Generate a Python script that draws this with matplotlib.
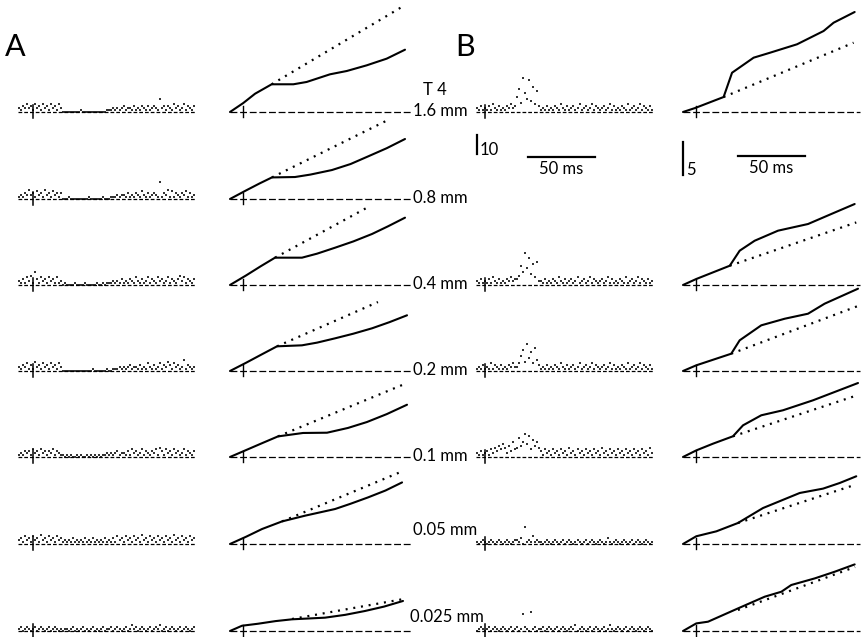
import numpy as np
import matplotlib
matplotlib.use("Agg")
import matplotlib.pyplot as plt

plt.rcParams['font.family'] = ['Lato', 'DejaVu Sans']

# ---------------- data ----------------
depth_labels = ["1.6 mm", "0.8 mm", "0.4 mm", "0.2 mm", "0.1 mm", "0.05 mm", "0.025 mm"]
BIN_MS = 1.5            # histogram bin width (ms)
STIM_A_MS = 11.0        # stimulus time in A histograms
STIM_B_MS = 7.0         # stimulus time in B histograms
STIM_CUM_MS = 9.5       # stimulus time in cumulative plots

# dot histograms: one digit (base 36) = spike count of one bin
hist_A = [
    "2132423142314231423142" "00000000010000000000001" "1121212312213121321312321723132142312413213",
    "1213252314231523142313" "00010000000001000000100" "0111212213121321421312321913251413213241312",
    "2131425173142314231412" "01000010000100000100101" "1121213121321421312413214231241321352413213",
    "2132413152314231423142" "00000000000000010000001" "0011121212312213121421312413253142312613212",
    "1213231423142313241321" "10101001010010101010112" "1212312213142312413213241531423142312413213",
    "2314231423152314231423" "12121312121312131212131" "2131423142314231523142314231423152314231423",
    "1201210120121012012101" "01101201012010120101201" "1201210120131201210120121301201210120121012",
]
hist_B = {
    0: "21312" "131421312132423" "8c5ia7h6d4b3"
       "1213121321" "4213123124" "1231241321" "2312413121" "3214123124" "132131",
    2: "21312" "131421312132423" "35a7h9e6b4c2"
       "2131213214" "2131231241" "2312413212" "3124131213" "2141231241" "321312",
    3: "12131" "214132131213242" "248b5e7a4c63"
       "1213121321" "4213123124" "1231241321" "2312413121" "3214123124" "132131",
    4: "21312" "314253647526384" "5a68c7b49685"
       "3142314231" "4231523142" "3142314231" "5231423142" "3142314231" "423152",
    5: "10121" "012101210121012" "213091214121"
       "1012101210" "1201210121" "0120121012" "1013101210" "1210120121" "012101",
    6: "01210" "120121012101201" "2019210a1201"
       "1201210120" "1210121301" "2101201210" "1201310121" "0120121012" "101210",
}

# cumulative spike counts (time in ms, count in spikes) ; dotted = extrapolated baseline rate
cum_A_t = [
    [0, 9.9, 18.7, 31.1, 47.3, 57.2, 74.6, 87.1, 102.0, 109.5, 116.9, 130.6],
    [0, 12.0, 22.0, 31.3, 48.5, 60.0, 76.1, 90.0, 103.0, 117.0, 130.6],
    [0, 12.0, 23.0, 33.6, 53.7, 65.0, 78.4, 92.0, 106.0, 118.0, 130.6],
    [0, 12.0, 24.0, 35.1, 53.7, 65.0, 78.4, 92.0, 106.0, 119.0, 132.1],
    [0, 12.0, 24.0, 35.8, 54.5, 72.4, 88.0, 102.2, 117.0, 132.1],
    [0, 12.0, 23.9, 38.8, 56.0, 78.4, 90.0, 103.0, 116.0, 128.4],
    [0, 9.0, 20.9, 34.0, 46.3, 70.9, 86.0, 100.7, 115.0, 129.1],
]
cum_A_y = [
    [0, 1.36, 2.77, 4.20, 4.20, 4.55, 5.71, 6.21, 7.07, 7.58, 8.08, 9.44],
    [0, 1.30, 2.35, 3.27, 3.33, 3.70, 4.39, 5.30, 6.45, 7.70, 9.09],
    [0, 1.45, 2.85, 4.14, 4.14, 4.75, 5.65, 6.60, 7.73, 8.90, 10.20],
    [0, 1.25, 2.55, 3.74, 3.89, 4.30, 4.95, 5.65, 6.47, 7.40, 8.44],
    [0, 1.05, 2.10, 3.12, 3.64, 3.68, 4.40, 5.30, 6.50, 7.92],
    [0, 1.10, 2.27, 3.42, 4.29, 5.30, 6.10, 7.06, 8.10, 9.33],
    [0, 0.80, 1.10, 1.50, 1.77, 2.02, 2.45, 3.03, 3.70, 4.55],
]
dot_A_t = [[31.1, 130.6], [31.3, 117.9], [33.6, 102.2], [35.1, 110.4], [35.8, 132.1], [38.8, 128.4], [46.3, 128.4]]
dot_A_y = [[4.20, 16.2], [3.27, 11.97], [4.14, 11.71], [3.74, 10.45], [3.12, 11.21], [3.42, 11.0], [1.82, 4.80]]

cum_B_t = {
    0: [0, 9.0, 30.3, 36.6, 52.7, 64.9, 85.1, 104.9, 112.4, 128.1],
    2: [0, 9.9, 34.9, 42.3, 53.5, 70.9, 93.3, 110.7, 128.1],
    3: [0, 9.9, 36.0, 42.3, 58.4, 75.9, 93.3, 105.7, 130.6],
    4: [0, 9.9, 22.4, 37.3, 44.8, 58.4, 74.6, 97.0, 130.6],
    5: [0, 9.9, 24.9, 41.0, 59.7, 87.1, 104.5, 116.9, 129.3],
    6: [0, 9.9, 18.7, 41.0, 61.0, 73.4, 80.8, 98.3, 113.2, 128.1],
}
cum_B_y = {
    0: [0, 0.60, 2.27, 5.95, 8.23, 8.98, 10.26, 12.27, 13.53, 15.15],
    2: [0, 0.91, 2.92, 5.20, 6.71, 8.23, 9.24, 10.76, 12.27],
    3: [0, 0.86, 2.62, 4.65, 6.92, 7.92, 8.68, 10.20, 12.47],
    4: [0, 1.00, 2.02, 3.14, 4.80, 6.32, 7.08, 8.59, 11.21],
    5: [0, 1.17, 1.92, 3.18, 5.45, 7.73, 8.39, 9.24, 10.26],
    6: [0, 1.15, 1.41, 3.42, 5.20, 5.95, 6.97, 7.97, 8.98, 10.09],
}
dot_B_t = {0: [30.3, 127.3], 2: [34.9, 129.3], 3: [36.0, 131.9], 4: [37.3, 130.6], 5: [41.0, 128.9], 6: [41.0, 128.4]}
dot_B_y = {0: [2.27, 10.50], 2: [2.92, 9.48], 3: [2.62, 9.95], 4: [3.14, 9.39], 5: [3.18, 9.00], 6: [3.18, 9.70]}

# scale bars
SB_HIST_COUNT = 10
SB_CUM_COUNT = 5
SB_TIME_MS = 50

# ---------------- layout (pixels) ----------------
W, H = 866, 637
PX_PER_MS = 67 / 50.0
PX_PER_COUNT = 1.9        # histogram
PX_PER_SPIKE = 33 / 5.0   # cumulative
XMAX = 132.0
row_base = [112, 199, 285, 371, 457, 544, 631]
FS = 12

fig = plt.figure(figsize=(W / 100, H / 100), dpi=100)


def px_axes(left, top, width, height):
    ax = fig.add_axes([left / W, 1 - (top + height) / H, width / W, height / H])
    ax.set_axis_off()
    ax.patch.set_alpha(0)
    return ax


def hist_axes(left, yb):
    above, below = 45, 12
    ax = px_axes(left, yb - above, XMAX * PX_PER_MS, above + below)
    ax.set_xlim(0, XMAX)
    ax.set_ylim(-below / PX_PER_COUNT, above / PX_PER_COUNT)
    return ax


def cum_axes(left, yb):
    above, below = 112, 12
    ax = px_axes(left, yb - above, XMAX * PX_PER_MS, above + below)
    ax.set_xlim(0, XMAX)
    ax.set_ylim(-below / PX_PER_SPIKE, above / PX_PER_SPIKE)
    return ax


def draw_hist(ax, s, stim):
    counts = np.array([int(c, 36) for c in s])
    t = (np.arange(len(counts)) + 0.5) * BIN_MS
    ax.plot([0, XMAX], [0, 0], color='k', lw=0.9, dashes=(3, 1.6), clip_on=False)
    ax.plot(t, counts, '_', ms=2.0, mew=1.15, color='k', clip_on=False)
    ax.plot([stim, stim], [-6 / PX_PER_COUNT, 7 / PX_PER_COUNT], color='k', lw=1.1, clip_on=False)


def draw_cum(ax, t, y, dt, dy, xend):
    ax.plot([0, xend], [0, 0], color='k', lw=0.9, dashes=(5.5, 2.2), clip_on=False)
    ax.plot(dt, dy, color='k', lw=1.6, dashes=(0.9, 2.6), clip_on=False)
    ax.plot(t, y, color='k', lw=1.5, clip_on=False, solid_joinstyle='round', solid_capstyle='round')
    ax.plot([STIM_CUM_MS, STIM_CUM_MS], [-5 / PX_PER_SPIKE, 6 / PX_PER_SPIKE], color='k', lw=1.0, clip_on=False)


for r in range(7):
    yb = row_base[r]
    ax = hist_axes(18, yb)
    draw_hist(ax, hist_A[r], STIM_A_MS)
    ax = cum_axes(230, yb)
    draw_cum(ax, cum_A_t[r], cum_A_y[r], dot_A_t[r], dot_A_y[r], 135.0)
    if r in hist_B:
        ax = hist_axes(476, yb)
        draw_hist(ax, hist_B[r], STIM_B_MS)
        ax = cum_axes(683, yb)
        draw_cum(ax, cum_B_t[r], cum_B_y[r], dot_B_t[r], dot_B_y[r], XMAX)

# depth labels
label_pos = [(413, 116), (413, 203), (413, 289), (413, 375), (413, 461), (413, 535), (410, 622)]
for lab, (x, y) in zip(depth_labels, label_pos):
    fig.text(x / W, 1 - y / H, lab, fontsize=FS, va='baseline', ha='left')
fig.text(423 / W, 1 - 95 / H, "T 4", fontsize=FS, va='baseline', ha='left')

# panel letters
fig.text(5 / W, 1 - 56 / H, "A", fontsize=22, va='baseline', ha='left')
fig.text(455 / W, 1 - 56 / H, "B", fontsize=22, va='baseline', ha='left')

# scale bars (histogram)
sb = px_axes(470, 120, 200, 70)
sb.set_xlim(0, 200 / PX_PER_MS)
sb.set_ylim(70 / PX_PER_COUNT, 0)          # y measured downward from top (px / count)
x0 = 7 / PX_PER_MS
y0 = 34 / PX_PER_COUNT
sb.plot([x0, x0], [y0, y0 - SB_HIST_COUNT], color='k', lw=1.6)
sb.text(x0 + 3 / PX_PER_MS, y0 + 1 / PX_PER_COUNT, str(SB_HIST_COUNT), fontsize=FS, va='baseline', ha='left')
xt = 58 / PX_PER_MS
yt = 37 / PX_PER_COUNT
sb.plot([xt, xt + SB_TIME_MS], [yt, yt], color='k', lw=1.6)
sb.text(xt + SB_TIME_MS / 2, yt + 4 / PX_PER_COUNT, f"{SB_TIME_MS} ms", fontsize=FS, va='top', ha='center')

# scale bars (cumulative)
sc = px_axes(680, 120, 180, 70)
sc.set_xlim(0, 180 / PX_PER_MS)
sc.set_ylim(70 / PX_PER_SPIKE, 0)
x0 = 3 / PX_PER_MS
y0 = 55 / PX_PER_SPIKE
sc.plot([x0, x0], [y0, y0 - SB_CUM_COUNT], color='k', lw=1.6)
sc.text(x0 + 3 / PX_PER_MS, y0, str(SB_CUM_COUNT), fontsize=FS, va='baseline', ha='left')
xt = 58 / PX_PER_MS
yt = 36 / PX_PER_SPIKE
sc.plot([xt, xt + SB_TIME_MS], [yt, yt], color='k', lw=1.6)
sc.text(xt + SB_TIME_MS / 2, yt + 4 / PX_PER_SPIKE, f"{SB_TIME_MS} ms", fontsize=FS, va='top', ha='center')

fig.savefig("out.png", dpi=100)
